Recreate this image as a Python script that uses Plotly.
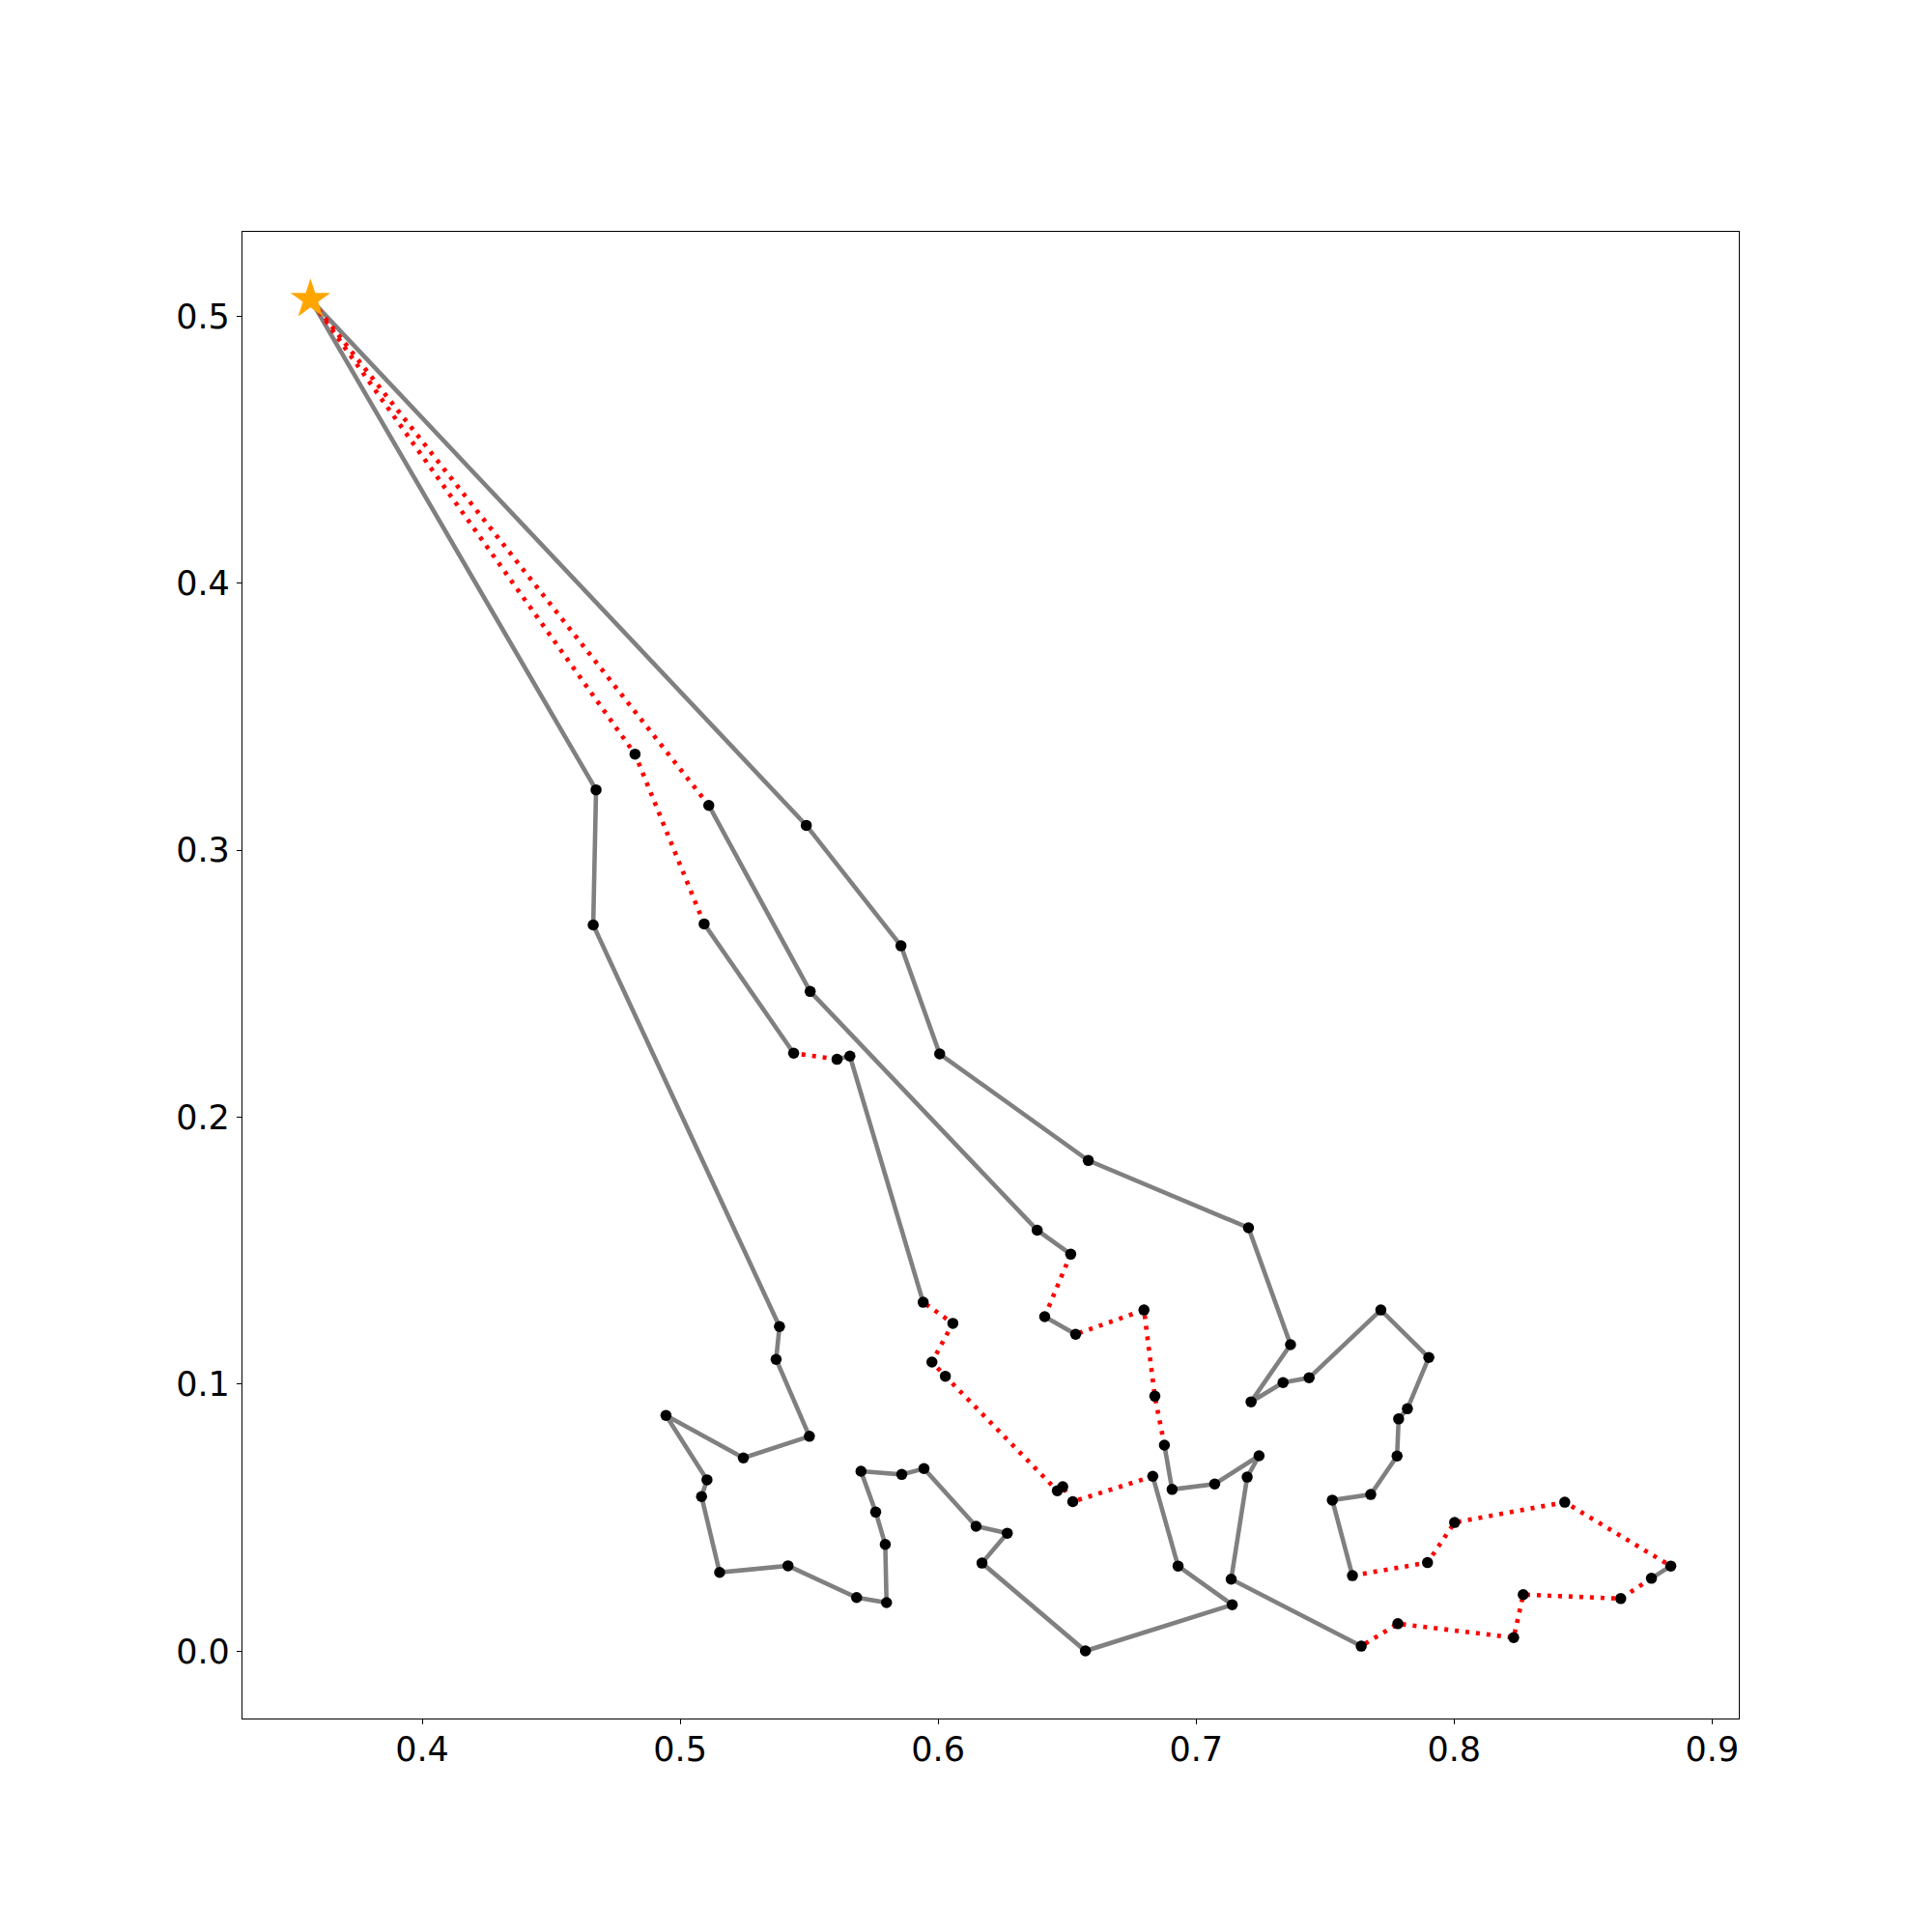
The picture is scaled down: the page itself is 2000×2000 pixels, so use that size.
import plotly.graph_objects as go

# Depot
depot_x = [0.3567]
depot_y = [0.5063]

# Route 1 (closed tour from depot back to depot)
route1_x = [0.3567, 0.4674, 0.4663, 0.5385, 0.5372, 0.5501, 0.5245, 0.4945, 0.5104, 0.5083,
            0.5153, 0.5418, 0.5684, 0.5800, 0.5795, 0.5758, 0.5701, 0.5859, 0.5945, 0.6147,
            0.6268, 0.6170, 0.6571, 0.7140, 0.6930, 0.6832, 0.6522, 0.6483, 0.6462, 0.6028,
            0.5976, 0.6057, 0.5942, 0.5658, 0.5608, 0.5440, 0.5093, 0.4825, 0.3567]
route1_y = [0.5063, 0.3226, 0.2720, 0.1216, 0.1093, 0.0805, 0.0724, 0.0883, 0.0642, 0.0579,
            0.0295, 0.0320, 0.0201, 0.0182, 0.0400, 0.0521, 0.0674, 0.0662, 0.0684, 0.0468,
            0.0442, 0.0330, 0.0001, 0.0174, 0.0319, 0.0655, 0.0560, 0.0616, 0.0601, 0.1030,
            0.1083, 0.1228, 0.1307, 0.2229, 0.2217, 0.2240, 0.2724, 0.3360, 0.5063]
# segment kind: "g" = solid grey, "r" = dotted red
route1_kind = ["g"] * 25 + ["r"] * 7 + ["g", "g", "r", "g", "r", "r"]

# Route 2
route2_x = [0.3567, 0.5489, 0.5856, 0.6006, 0.6582, 0.7203, 0.7366, 0.7213, 0.7337, 0.7438,
            0.7716, 0.7902, 0.7819, 0.7785, 0.7779, 0.7677, 0.7528, 0.7606, 0.7897, 0.8002,
            0.8429, 0.8840, 0.8765, 0.8646, 0.8268, 0.8231, 0.7782, 0.7640, 0.7136, 0.7198,
            0.7244, 0.7072, 0.6907, 0.6877, 0.6840, 0.6798, 0.6533, 0.6413, 0.6514, 0.6384,
            0.5504, 0.5111, 0.3567]
route2_y = [0.5063, 0.3093, 0.2642, 0.2237, 0.1838, 0.1586, 0.1148, 0.0934, 0.1006, 0.1024,
            0.1278, 0.1100, 0.0908, 0.0870, 0.0731, 0.0587, 0.0566, 0.0283, 0.0332, 0.0482,
            0.0558, 0.0319, 0.0273, 0.0197, 0.0212, 0.0051, 0.0103, 0.0019, 0.0270, 0.0652,
            0.0732, 0.0626, 0.0606, 0.0772, 0.0955, 0.1278, 0.1187, 0.1253, 0.1487, 0.1577,
            0.2471, 0.3168, 0.5063]
route2_kind = (["g"] * 17 + ["r"] * 4 + ["g"] + ["r"] * 5 + ["g"] * 6
               + ["r"] * 3 + ["g", "r", "g", "g", "g", "r"])

x_ticks = [0.4, 0.5, 0.6, 0.7, 0.8, 0.9]
y_ticks = [0.0, 0.1, 0.2, 0.3, 0.4, 0.5]

fig = go.Figure()

styles = {
    "g": dict(color="#808080", width=4.6),
    "r": dict(color="#FF0000", width=4.6, dash="4px,7px"),
}


def add_runs(xs, ys, kinds):
    i = 0
    n = len(kinds)
    while i < n:
        k = kinds[i]
        j = i
        while j + 1 < n and kinds[j + 1] == k:
            j += 1
        fig.add_trace(go.Scatter(x=xs[i:j + 2], y=ys[i:j + 2], mode="lines",
                                 line=styles[k], showlegend=False, hoverinfo="skip"))
        i = j + 1


add_runs(route1_x, route1_y, route1_kind)
add_runs(route2_x, route2_y, route2_kind)

# customer points
cust_x = route1_x[1:-1] + route2_x[1:-1]
cust_y = route1_y[1:-1] + route2_y[1:-1]
fig.add_trace(go.Scatter(x=cust_x, y=cust_y, mode="markers",
                         marker=dict(color="black", size=11.5, line=dict(width=0)),
                         showlegend=False))

fig.add_trace(go.Scatter(x=depot_x, y=depot_y, mode="markers",
                         marker=dict(symbol="star", color="#FFA500", size=31, line=dict(width=0)),
                         showlegend=False))

all_x = cust_x + depot_x
all_y = cust_y + depot_y
xmin, xmax = min(all_x), max(all_x)
ymin, ymax = min(all_y), max(all_y)
mx = 0.05 * (xmax - xmin)
my = 0.05 * (ymax - ymin)

axis_common = dict(showline=True, mirror=True, linecolor="black", linewidth=1.3,
                   ticks="outside", ticklen=5, tickwidth=1.3, tickcolor="black",
                   showgrid=False, zeroline=False,
                   tickfont=dict(family="DejaVu Sans", size=35, color="black"))

fig.update_layout(
    width=1992, height=1992,
    margin=dict(l=243, r=200, t=232, b=221),
    paper_bgcolor="white", plot_bgcolor="white",
    xaxis=dict(range=[xmin - mx, xmax + mx], tickvals=x_ticks,
               ticktext=[f"{v:.1f}" for v in x_ticks], ticklabelstandoff=-4, **axis_common),
    yaxis=dict(range=[ymin - my, ymax + my], tickvals=y_ticks,
               ticktext=[f"{v:.1f}" for v in y_ticks], **axis_common),
)

fig.write_html("out.html")
